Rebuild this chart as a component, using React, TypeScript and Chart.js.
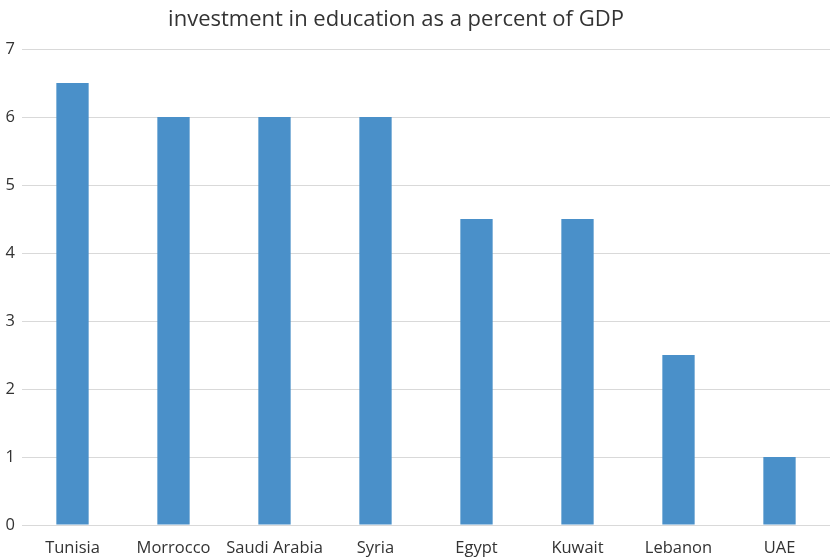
import React, { useEffect, useRef } from "react";
import { Chart, registerables } from "chart.js";

Chart.register(...registerables);

const categories = ["Tunisia", "Morrocco", "Saudi Arabia", "Syria", "Egypt", "Kuwait", "Lebanon", "UAE"];
const values = [6.5, 6, 6, 6, 4.5, 4.5, 2.5, 1];
const yTicks = [0, 1, 2, 3, 4, 5, 6, 7];
const titleText = "investment in education as a percent of GDP";

const FONT = "'Open Sans', 'Noto Sans', sans-serif";

export default function App() {
  const ref = useRef<HTMLCanvasElement | null>(null);
  useEffect(() => {
    if (!ref.current) return;
    const titlePlugin = {
      id: "customTitle",
      afterDraw(chart: any) {
        const ctx = chart.ctx;
        ctx.save();
        ctx.font = `22px ${FONT}`;
        ctx.fillStyle = "#333333";
        ctx.textAlign = "center";
        ctx.textBaseline = "alphabetic";
        ctx.fillText(titleText, 396, 26);
        ctx.restore();
      },
    };
    const chart = new Chart(ref.current, {
      type: "bar",
      data: {
        labels: categories,
        datasets: [
          {
            data: values,
            backgroundColor: "#4a90c9",
            borderWidth: 0,
            barPercentage: 0.32,
            categoryPercentage: 1,
          },
        ],
      },
      options: {
        responsive: false,
        animation: false,
        layout: { padding: { top: 49, right: 0, left: 0, bottom: 0 } },
        plugins: { legend: { display: false }, title: { display: false }, tooltip: { enabled: false } },
        scales: {
          x: {
            grid: { display: false },
            border: { display: false },
            ticks: { color: "#333333", font: { family: FONT, size: 16.5 }, padding: 5, maxRotation: 0, autoSkip: false },
            afterFit(scale: any) {
              scale.height = 33;
            },
          },
          y: {
            min: 0,
            max: 7,
            afterBuildTicks(scale: any) {
              scale.ticks = yTicks.map((v) => ({ value: v }));
            },
            grid: { color: "#d9d9d9", lineWidth: 1, drawTicks: false },
            border: { display: false },
            ticks: { color: "#333333", font: { family: FONT, size: 16.5 }, padding: 7 },
            afterFit(scale: any) {
              scale.width = 22;
            },
          },
        },
      },
      plugins: [titlePlugin],
    });
    return () => chart.destroy();
  }, []);
  return (
    <div style={{ position: "fixed", left: 0, top: 0, width: 830, height: 558, background: "#fff" }}>
      <canvas ref={ref} width={830} height={558} />
    </div>
  );
}
